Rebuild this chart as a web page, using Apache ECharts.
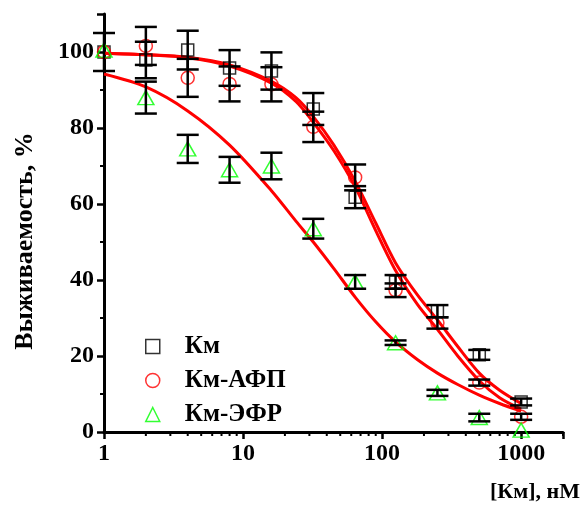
<!DOCTYPE html>
<html>
<head>
<meta charset="utf-8">
<script src="https://cdn.jsdelivr.net/npm/echarts@6/dist/echarts.min.js"></script>
<style>
  html, body { margin: 0; padding: 0; background: #fff; }
  #chart { width: 584px; height: 506px; }
</style>
</head>
<body>
<div id="chart"></div>
<script>
  // concentration, nM
  const conc = [1, 2, 4, 8, 16, 32, 64, 125, 250, 500, 1000];

  const km = [100, 97.9, 100.5, 95.8, 95, 85, 61.8, 39.5, 31.8, 20.3, 7.9];
  const kmErr = [5, 4.8, 5.1, 4.7, 4.9, 4.2, 2.9, 1.8, 1.6, 1.3, 0.9];
  const kmAfp = [100, 101.6, 93.2, 91.6, 91.5, 80.3, 67, 37.3, 28.7, 13, 4];
  const kmAfpErr = [null, 5, 5, 4.6, 4.5, 4, 3.4, 1.8, 1.5, 0.8, 0.8];
  const kmEfr = [100.5, 88, 74.5, 69, 70, 53.5, 39.5, 23.5, 10.3, 3.8, 0.5];
  const kmEfrErr = [null, 4.2, 3.7, 3.4, 3.5, 2.6, 1.8, 0.6, 0.8, 1, null];

  // fitted curves
  const fitConc = [1, 2, 4, 8, 16, 24, 32, 45, 64, 90, 125, 180, 250, 350, 500, 700, 1000];
  const fitKm = [99.7, 99.3, 98.6, 96.6, 92.3, 88, 83, 75.5, 66, 55, 44.5, 36, 29.5, 22.5, 15.5, 11, 7.5];
  const fitKmAfp = [99.7, 99.3, 98.5, 96.3, 91.8, 87, 81.5, 74, 64.5, 53, 42.5, 33.5, 27, 20, 13.5, 9, 6];
  const fitKmEfr = [94.2, 90.8, 84.5, 75.5, 63.5, 55.5, 50, 43, 35.5, 29, 23.7, 19, 15.5, 12.5, 9.7, 7.5, 5.5];

  const xLabels = [1, 10, 100, 1000];
  const xMinorTicks = [2, 3, 4, 5, 6, 7, 8, 9, 20, 30, 40, 50, 60, 70, 80, 90,
    200, 300, 400, 500, 600, 700, 800, 900, 2000];

  const font = '"Liberation Serif", "Times New Roman", serif';
  const chart = echarts.init(document.getElementById("chart"));

  function pairs(xs, ys) {
    return xs.map((x, i) => [x, ys[i]]);
  }

  function errSeries(ys, errs) {
    return {
      type: "custom",
      z: 5,
      silent: true,
      clip: false,
      data: conc.map((x, i) => [x, ys[i], errs[i] == null ? 0 : errs[i]]),
      renderItem: function (params, api) {
        const e = api.value(2);
        if (!e) return;
        const x = api.value(0);
        const y = api.value(1);
        const top = api.coord([x, y + e]);
        const bot = api.coord([x, y - e]);
        const w = 11;
        const st = { stroke: "#000", lineWidth: 2.5 };
        return {
          type: "group",
          children: [
            { type: "line", shape: { x1: top[0], y1: top[1], x2: bot[0], y2: bot[1] }, style: st },
            { type: "line", shape: { x1: top[0] - w, y1: top[1], x2: top[0] + w, y2: top[1] }, style: st },
            { type: "line", shape: { x1: bot[0] - w, y1: bot[1], x2: bot[0] + w, y2: bot[1] }, style: st },
          ],
        };
      },
    };
  }

  function fitSeries(ys) {
    return {
      type: "line",
      z: 3,
      data: pairs(fitConc, ys),
      smooth: 0.3,
      showSymbol: false,
      silent: true,
      lineStyle: { color: "#ff0000", width: 3 },
    };
  }

  const option = {
    backgroundColor: "#fff",
    animation: false,
    grid: { left: 104, right: 21, top: 14, bottom: 74 },
    legend: {
      orient: "vertical",
      left: 140,
      top: 329,
      itemWidth: 14,
      itemHeight: 14,
      itemGap: 9,
      textStyle: {
        fontFamily: font,
        fontWeight: "bold",
        fontSize: 25,
        color: "#000",
        padding: [0, 0, 0, 20],
      },
      data: [
        { name: "Км", icon: "rect", itemStyle: { color: "transparent", borderColor: "#000", borderWidth: 1.5 } },
        { name: "Км-АФП", icon: "circle", itemStyle: { color: "transparent", borderColor: "#ff0000", borderWidth: 1.5 } },
        { name: "Км-ЭФР", icon: "triangle", itemStyle: { color: "transparent", borderColor: "#00ff00", borderWidth: 1.5 } },
      ],
    },
    xAxis: {
      type: "log",
      logBase: 10,
      min: 1,
      max: 2000,
      axisLine: { lineStyle: { color: "#000", width: 3 } },
      axisTick: { length: 7, lineStyle: { color: "#000", width: 2.5 } },
      axisLabel: {
        color: "#000",
        fontFamily: font,
        fontWeight: "bold",
        fontSize: 24,
        margin: 10,
        formatter: function (v) {
          const r = Math.round(v);
          return xLabels.indexOf(r) >= 0 ? String(r) : "";
        },
      },
      splitLine: { show: false },
    },
    yAxis: {
      type: "value",
      min: 0,
      max: 110,
      interval: 20,
      axisLine: { show: true, lineStyle: { color: "#000", width: 3 } },
      axisTick: { show: true, length: 7, lineStyle: { color: "#000", width: 2.5 } },
      minorTick: { show: true, splitNumber: 2, length: 4, lineStyle: { color: "#000", width: 2 } },
      axisLabel: {
        color: "#000",
        fontFamily: font,
        fontWeight: "bold",
        fontSize: 24,
        margin: 10,
        showMaxLabel: false,
      },
      splitLine: { show: false },
    },
    graphic: [
      {
        type: "text",
        x: 25,
        y: 241,
        rotation: Math.PI / 2,
        style: {
          text: "Выживаемость, %",
          font: "bold 26px " + font,
          fill: "#000",
          textAlign: "center",
          textVerticalAlign: "middle",
        },
      },
      {
        type: "text",
        right: 4,
        top: 481,
        style: {
          text: "[Км], нМ",
          font: "bold 22px " + font,
          fill: "#000",
        },
      },
    ],
    series: [
      fitSeries(fitKm),
      fitSeries(fitKmAfp),
      fitSeries(fitKmEfr),
      {
        name: "Км",
        type: "scatter",
        z: 4,
        symbol: "rect",
        symbolSize: 12,
        itemStyle: { color: "transparent", borderColor: "#000", borderWidth: 1.5 },
        data: pairs(conc, km),
      },
      {
        name: "Км-АФП",
        type: "scatter",
        z: 4,
        symbol: "circle",
        symbolSize: 13,
        itemStyle: { color: "transparent", borderColor: "#ff0000", borderWidth: 1.5 },
        data: pairs(conc, kmAfp),
      },
      {
        name: "Км-ЭФР",
        type: "scatter",
        z: 4,
        symbol: "triangle",
        symbolSize: [16, 14],
        itemStyle: { color: "transparent", borderColor: "#00ff00", borderWidth: 1.5 },
        data: pairs(conc, kmEfr),
      },
      errSeries(km, kmErr),
      errSeries(kmAfp, kmAfpErr),
      errSeries(kmEfr, kmEfrErr),
      {
        // minor ticks of the log axis
        type: "custom",
        silent: true,
        clip: false,
        data: xMinorTicks.map((v) => [v, 0]),
        renderItem: function (params, api) {
          const p = api.coord([api.value(0), 0]);
          return {
            type: "line",
            shape: { x1: p[0], y1: p[1], x2: p[0], y2: p[1] + 4 },
            style: { stroke: "#000", lineWidth: 2 },
          };
        },
      },
    ],
  };

  chart.setOption(option);
</script>
</body>
</html>
